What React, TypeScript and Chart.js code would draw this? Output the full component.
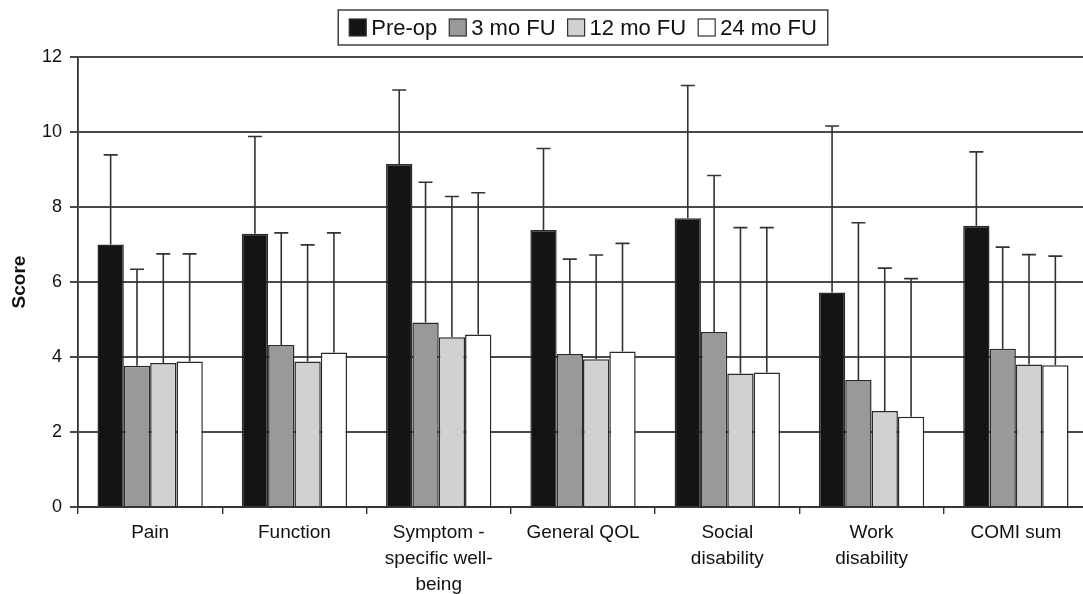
import React, { useEffect, useRef } from "react";
import { Chart, registerables } from "chart.js";
Chart.register(...registerables);

const categories: string[][] = [
  ["Pain"],
  ["Function"],
  ["Symptom -", "specific well-", "being"],
  ["General QOL"],
  ["Social", "disability"],
  ["Work", "disability"],
  ["COMI sum"],
];
const seriesNames = ["Pre-op", "3 mo FU", "12 mo FU", "24 mo FU"];
const preOp = [7.0, 7.29, 9.15, 7.39, 7.7, 5.72, 7.5];
const preOpUpper = [9.39, 9.88, 11.12, 9.56, 11.24, 10.16, 9.47];
const mo3 = [3.77, 4.32, 4.92, 4.08, 4.67, 3.39, 4.22];
const mo3Upper = [6.34, 7.31, 8.66, 6.61, 8.84, 7.58, 6.93];
const mo12 = [3.84, 3.88, 4.53, 3.94, 3.56, 2.56, 3.8];
const mo12Upper = [6.75, 6.99, 8.28, 6.72, 7.45, 6.37, 6.73];
const mo24 = [3.88, 4.12, 4.6, 4.15, 3.59, 2.41, 3.78];
const mo24Upper = [6.75, 7.31, 8.38, 7.03, 7.45, 6.09, 6.69];
const yTicks = [0, 2, 4, 6, 8, 10, 12];
const colors = ["#141412", "#999999", "#d0d1d0", "#ffffff"];

const FONT = '"Liberation Sans", Arial, Helvetica, sans-serif';

const seriesValues = [preOp, mo3, mo12, mo24];
const seriesUpper = [preOpUpper, mo3Upper, mo12Upper, mo24Upper];

const errorBarPlugin = {
  id: "errorBars",
  afterDatasetsDraw(chart: any) {
    const ctx = chart.ctx;
    const yScale = chart.scales.y;
    ctx.save();
    ctx.strokeStyle = "#333333";
    ctx.lineWidth = 1.6;
    chart.data.datasets.forEach((ds: any, i: number) => {
      const meta = chart.getDatasetMeta(i);
      meta.data.forEach((el: any, j: number) => {
        const up = ds.upper[j];
        const yTop = yScale.getPixelForValue(up);
        const x = el.x;
        ctx.beginPath();
        ctx.moveTo(x, el.y);
        ctx.lineTo(x, yTop);
        ctx.moveTo(x - 7, yTop);
        ctx.lineTo(x + 7, yTop);
        ctx.stroke();
      });
    });
    ctx.restore();
  },
};

const legendPlugin = {
  id: "boxLegend",
  afterDraw(chart: any) {
    const ctx = chart.ctx;
    const area = chart.chartArea;
    ctx.save();
    ctx.font = `22px ${FONT}`;
    ctx.textBaseline = "middle";
    const box = 17;
    const gapText = 5;
    const gapItem = 12;
    const pad = 11;
    const items = chart.data.datasets.map((ds: any) => ({
      label: ds.label,
      color: ds.backgroundColor,
      w: ctx.measureText(ds.label).width,
    }));
    let total = 0;
    items.forEach((it: any, k: number) => {
      total += box + gapText + it.w + (k < items.length - 1 ? gapItem : 0);
    });
    const cx = (area.left + area.right) / 2;
    const left = cx - total / 2 - pad;
    const top = 10;
    const h = 35;
    ctx.fillStyle = "#ffffff";
    ctx.fillRect(left, top, total + pad * 2, h);
    ctx.strokeStyle = "#333333";
    ctx.lineWidth = 1.4;
    ctx.strokeRect(left, top, total + pad * 2, h);
    let x = left + pad;
    const cy = top + h / 2;
    items.forEach((it: any) => {
      ctx.fillStyle = it.color;
      ctx.fillRect(x, cy - box / 2, box, box);
      ctx.strokeStyle = "#333333";
      ctx.lineWidth = 1.2;
      ctx.strokeRect(x, cy - box / 2, box, box);
      ctx.fillStyle = "#111111";
      ctx.fillText(it.label, x + box + gapText, cy + 1);
      x += box + gapText + it.w + gapItem;
    });
    ctx.restore();
  },
};

export default function App() {
  const ref = useRef<HTMLCanvasElement | null>(null);
  useEffect(() => {
    if (!ref.current) return;
    const chart = new Chart(ref.current, {
      type: "bar",
      data: {
        labels: categories,
        datasets: seriesNames.map((name, i) => ({
          label: name,
          data: seriesValues[i],
          upper: seriesUpper[i],
          backgroundColor: colors[i],
          borderColor: "#2a2a2a",
          borderWidth: 1.5,
          categoryPercentage: 0.73,
          barPercentage: 1,
        })) as any,
      },
      options: {
        responsive: false,
        maintainAspectRatio: false,
        animation: false,
        layout: { padding: { top: 57, right: 2, left: 0, bottom: 0 } },
        plugins: {
          legend: { display: false },
          tooltip: { enabled: false },
        },
        scales: {
          x: {
            grid: {
              display: true,
              drawOnChartArea: false,
              drawTicks: true,
              tickLength: 7,
              color: "#333333",
              lineWidth: 1.4,
              offset: true,
            },
            border: { color: "#333333", width: 1.8 },
            ticks: {
              font: { size: 19, family: FONT, lineHeight: 1.36 },
              color: "#111111",
              padding: 6,
              maxRotation: 0,
              autoSkip: false,
            },
            afterFit: (s: any) => {
              s.height = 87;
            },
          },
          y: {
            min: 0,
            max: 12,
            afterBuildTicks: (s: any) => {
              s.ticks = yTicks.map((v) => ({ value: v }));
            },
            grid: {
              color: "#4a4a4a",
              lineWidth: 2,
              tickLength: 8,
              drawTicks: true,
            },
            border: { color: "#333333", width: 1.8 },
            ticks: {
              font: { size: 18, family: FONT },
              color: "#111111",
              padding: 8,
            },
            title: {
              display: true,
              text: "Score",
              font: { size: 19, family: FONT, weight: "bold" },
              color: "#111111",
              padding: { top: 8, bottom: 0 },
            },
            afterFit: (s: any) => {
              s.width = 78;
            },
          },
        },
      },
      plugins: [errorBarPlugin, legendPlugin],
    });
    return () => chart.destroy();
  }, []);
  return (
    <div
      style={{
        position: "fixed",
        left: 0,
        top: 0,
        width: 1083,
        height: 594,
        overflow: "hidden",
        background: "#ffffff",
      }}
    >
      <canvas ref={ref} width={1090} height={594} style={{ display: "block" }} />
    </div>
  );
}
